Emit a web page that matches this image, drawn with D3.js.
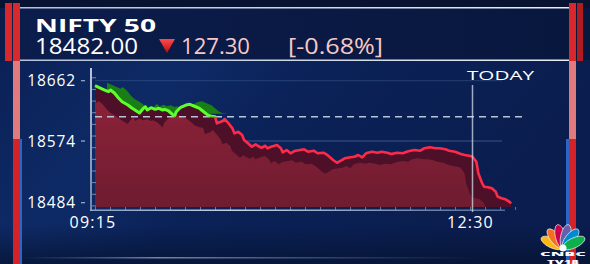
<!DOCTYPE html>
<html>
<head>
<meta charset="utf-8">
<script src="https://cdn.jsdelivr.net/npm/d3@7"></script>
<style>
  body { margin: 0; background: #081a44; overflow: hidden; }
  svg { display: block; }
  text { font-family: "Open Sans", "DejaVu Sans", sans-serif; fill: #fff; }
</style>
</head>
<body>
<svg id="chart" width="590" height="264"></svg>
<script>
// index name and quote
const indexName = "NIFTY 50";
const lastPrice = "18482.00";
const change = "127.30";
const changePct = "[-0.68%]";
const prevClose = 18609.3;

// intraday series
const times = ["09:15","09:18","09:20","09:22","09:23","09:25","09:27","09:29","09:32","09:34",
  "09:37","09:38","09:40","09:41","09:42","09:44","09:46","09:48","09:50","09:51",
  "09:53","09:55","09:56","09:57","09:59","10:02","10:04","10:07","10:09","10:10",
  "10:13","10:15","10:17","10:18","10:21","10:22","10:24","10:26","10:27","10:29",
  "10:31","10:32","10:34","10:36","10:38","10:39","10:41","10:43","10:44","10:46",
  "10:49","10:51","10:52","10:54","10:56","10:58","11:01","11:03","11:05","11:08",
  "11:10","11:13","11:15","11:18","11:20","11:22","11:24","11:27","11:29","11:31",
  "11:33","11:35","11:38","11:41","11:43","11:46","11:48","11:51","11:54","11:56",
  "11:58","12:00","12:03","12:05","12:08","12:11","12:13","12:16","12:18","12:21",
  "12:24","12:26","12:29","12:30","12:32","12:33","12:35","12:36","12:38","12:40",
  "12:42","12:43","12:45","12:47","12:49","12:50"];
const values = [18654.7,18650.9,18648.4,18645.9,18648.4,18644.0,18637.2,18631.3,18626.5,18622.1,
  18616.7,18614.8,18621.7,18624.0,18619.2,18622.6,18620.2,18621.7,18619.2,18620.2,
  18617.8,18612.9,18609.6,18616.7,18622.6,18626.5,18627.5,18624.0,18621.7,18619.2,
  18612.4,18610.0,18609.4,18599.8,18603.2,18606.1,18599.8,18592.5,18585.2,18587.6,
  18582.8,18575.5,18570.6,18565.7,18569.2,18567.1,18564.2,18567.1,18563.4,18565.7,
  18568.2,18563.4,18557.5,18560.9,18556.1,18559.4,18560.9,18561.9,18558.4,18559.9,
  18556.1,18556.9,18553.6,18546.3,18542.3,18545.3,18548.8,18550.2,18551.1,18553.6,
  18550.2,18556.1,18558.4,18556.9,18558.4,18556.9,18555.0,18556.9,18556.1,18558.4,
  18559.9,18560.9,18559.9,18563.4,18564.8,18563.4,18563.4,18561.9,18559.9,18558.4,
  18555.0,18553.6,18552.1,18551.1,18543.8,18526.9,18512.3,18507.3,18506.5,18505.0,
  18500.1,18492.8,18490.4,18489.0,18485.5,18483.0];

const yTicks = [18484, 18574, 18662];
const xTicks = ["09:15", "12:30"];
const todayMark = "12:30";

const parse = d3.timeParse("%H:%M");
const data = times.map((t, i) => ({ t: parse(t), v: values[i] }));

const W = 590, H = 264;
const plotBottom = 207;
const svg = d3.select("#chart");
const defs = svg.append("defs");

// ---------- background ----------
const bg = defs.append("linearGradient").attr("id", "bg")
  .attr("x1", 0).attr("y1", 0).attr("x2", 1).attr("y2", 0.4);
bg.append("stop").attr("offset", "0%").attr("stop-color", "#0a1f52");
bg.append("stop").attr("offset", "35%").attr("stop-color", "#0e2a66");
bg.append("stop").attr("offset", "55%").attr("stop-color", "#0b2258");
bg.append("stop").attr("offset", "100%").attr("stop-color", "#0a1d4e");
svg.append("rect").attr("width", W).attr("height", H).attr("fill", "url(#bg)");

// header band
const hd = defs.append("linearGradient").attr("id", "hd").attr("x1", 0).attr("x2", 1);
hd.append("stop").attr("offset", "0%").attr("stop-color", "#0b1d4c");
hd.append("stop").attr("offset", "45%").attr("stop-color", "#0a1a45");
hd.append("stop").attr("offset", "100%").attr("stop-color", "#08173d");
svg.append("rect").attr("x", 0).attr("y", 0).attr("width", W).attr("height", 8).attr("fill", "#071331");
svg.append("rect").attr("x", 0).attr("y", 8).attr("width", W).attr("height", 52).attr("fill", "url(#hd)");

// darker foot, fading in
const ft = defs.append("linearGradient").attr("id", "ft").attr("x1", 0).attr("y1", 0).attr("x2", 0).attr("y2", 1);
ft.append("stop").attr("offset", "0%").attr("stop-color", "#061433").attr("stop-opacity", 0);
ft.append("stop").attr("offset", "100%").attr("stop-color", "#061433").attr("stop-opacity", 0.8);
svg.append("rect").attr("x", 0).attr("y", 225).attr("width", W).attr("height", 39).attr("fill", "url(#ft)");

const hl = defs.append("linearGradient").attr("id", "hl").attr("x1", 0).attr("x2", 1);
hl.append("stop").attr("offset", "0%").attr("stop-color", "#c8d4ea").attr("stop-opacity", 0.9);
hl.append("stop").attr("offset", "100%").attr("stop-color", "#e8eef8").attr("stop-opacity", 1);
svg.append("rect").attr("x", 20).attr("y", 7).attr("width", 550).attr("height", 1.5).attr("fill", "url(#hl)");
svg.append("rect").attr("x", 20).attr("y", 59.5).attr("width", 550).attr("height", 1.5).attr("fill", "url(#hl)");

const bl = defs.append("linearGradient").attr("id", "bl").attr("x1", 0).attr("x2", 1);
bl.append("stop").attr("offset", "0%").attr("stop-color", "#6f86b8").attr("stop-opacity", 0);
bl.append("stop").attr("offset", "30%").attr("stop-color", "#9fb2d8").attr("stop-opacity", 0.7);
bl.append("stop").attr("offset", "100%").attr("stop-color", "#6f86b8").attr("stop-opacity", 0);
svg.append("rect").attr("x", 20).attr("y", 257).attr("width", 460).attr("height", 1.5).attr("fill", "url(#bl)");

// side bars
svg.append("rect").attr("x", 5).attr("y", 3).attr("width", 7).attr("height", 58).attr("fill", "#d8282c");
svg.append("rect").attr("x", 13).attr("y", 3).attr("width", 7).attr("height", 58).attr("fill", "#d62a2e");
svg.append("rect").attr("x", 13).attr("y", 61).attr("width", 7).attr("height", 78).attr("fill", "#e07a7c");
svg.append("rect").attr("x", 13).attr("y", 139).attr("width", 7).attr("height", 125).attr("fill", "#d42226");
svg.append("rect").attr("x", 20).attr("y", 139).attr("width", 2).attr("height", 125).attr("fill", "#2a66c8");
svg.append("rect").attr("x", 569).attr("y", 3).attr("width", 7).attr("height", 58).attr("fill", "#d8282c");
svg.append("rect").attr("x", 577).attr("y", 3).attr("width", 6).attr("height", 58).attr("fill", "#b01a20");
svg.append("rect").attr("x", 569).attr("y", 61).attr("width", 7).attr("height", 78).attr("fill", "#e07a7c");
svg.append("rect").attr("x", 569).attr("y", 139).attr("width", 7).attr("height", 125).attr("fill", "#d42226");
svg.append("rect").attr("x", 566).attr("y", 139).attr("width", 3).attr("height", 125).attr("fill", "#2a66c8");

// ---------- header texts ----------
svg.append("text").attr("x", 35).attr("y", 32).attr("font-size", 18.5).attr("font-weight", 700)
  .attr("textLength", 121).attr("lengthAdjust", "spacingAndGlyphs").text(indexName);
svg.append("text").attr("x", 35).attr("y", 53.5).attr("font-size", 21)
  .attr("textLength", 103).attr("lengthAdjust", "spacingAndGlyphs").text(lastPrice);

const tri = defs.append("linearGradient").attr("id", "tri").attr("x1", 0).attr("y1", 0).attr("x2", 0).attr("y2", 1);
tri.append("stop").attr("offset", "0%").attr("stop-color", "#ff4a4a");
tri.append("stop").attr("offset", "100%").attr("stop-color", "#b80d14");
svg.append("path").attr("d", "M159,39 L175,39 L167,53 Z").attr("fill", "url(#tri)");
svg.append("text").attr("x", 181).attr("y", 53.5).attr("font-size", 21)
  .style("fill", "#f7c9c6").attr("textLength", 69).attr("lengthAdjust", "spacingAndGlyphs").text(change);
svg.append("text").attr("x", 288).attr("y", 53.5).attr("font-size", 21)
  .style("fill", "#f7c9c6").attr("textLength", 95).attr("lengthAdjust", "spacingAndGlyphs").text(changePct);

// ---------- scales ----------
const x = d3.scaleTime().domain([parse(xTicks[0]), parse(xTicks[1])]).range([95, 472.5]);
const y = d3.scaleLinear().domain([yTicks[0], yTicks[2]]).range([202.7, 80.7]);

// grid lines
const g = svg.append("g");
g.selectAll("line.grid").data([yTicks[1], yTicks[2]]).join("line")
  .attr("x1", 95).attr("x2", 502)
  .attr("y1", d => y(d)).attr("y2", d => y(d))
  .attr("stroke", "#5a78b0").attr("stroke-opacity", d => d === yTicks[1] ? 0.6 : 0.35).attr("stroke-width", 1);

// ---------- area and line ----------
const line = d3.line().x(d => x(d.t)).y(d => y(d.v));
const area = d3.area().x(d => x(d.t)).y0(plotBottom).y1(d => y(d.v));

const yPC = y(prevClose);
defs.append("clipPath").attr("id", "above").append("rect")
  .attr("x", 0).attr("y", 0).attr("width", W).attr("height", yPC);
defs.append("clipPath").attr("id", "below").append("rect")
  .attr("x", 0).attr("y", yPC).attr("width", W).attr("height", H - yPC);
defs.append("clipPath").attr("id", "areaClip").append("path").attr("d", area(data));

// dark green band above the falling green line
g.append("path").attr("d", area(data)).attr("transform", "translate(12,-3)")
  .attr("fill", "#1a7e16").attr("clip-path", "url(#above)");

// main area, dark layer
const af = defs.append("linearGradient").attr("id", "af").attr("x1", 0).attr("y1", 0).attr("x2", 0).attr("y2", 1);
af.append("stop").attr("offset", "0%").attr("stop-color", "#8c2238");
af.append("stop").attr("offset", "100%").attr("stop-color", "#6c1b30");
g.append("path").attr("d", area(data)).attr("fill", "#4e1028");
// lighter body, offset copy inside the area
g.append("g").attr("clip-path", "url(#areaClip)")
  .append("path").attr("d", area(data)).attr("transform", "translate(-12,11)")
  .attr("fill", "url(#af)");

// prev close dashed
g.append("line").attr("x1", 95).attr("x2", 527).attr("y1", yPC).attr("y2", yPC)
  .attr("stroke", "#b9c4d8").attr("stroke-width", 1.5).attr("stroke-dasharray", "7,5");

// coloured line
g.append("path").attr("d", line(data)).attr("fill", "none")
  .attr("stroke", "#ff2a48").attr("stroke-width", 2.6).attr("stroke-linejoin", "round")
  .attr("clip-path", "url(#below)");
g.append("path").attr("d", line(data)).attr("fill", "none")
  .attr("stroke", "#5cff2a").attr("stroke-width", 3).attr("stroke-linejoin", "round")
  .attr("clip-path", "url(#above)");

// ---------- axes ----------
const yAxisLine = defs.append("linearGradient").attr("id", "yal").attr("x1", 0).attr("y1", 0).attr("x2", 0).attr("y2", 1);
yAxisLine.append("stop").attr("offset", "0%").attr("stop-color", "#e6ecf6");
yAxisLine.append("stop").attr("offset", "100%").attr("stop-color", "#8b9cc0");
svg.append("rect").attr("x", 90).attr("y", 68).attr("width", 2).attr("height", 143).attr("fill", "url(#yal)").attr("opacity", 0.8);

const yMinor = d3.range(yTicks[0] - 4, yTicks[2] + 8, 17);
svg.append("g").attr("transform", "translate(92,0)")
  .call(d3.axisRight(y).tickValues(yMinor).tickSize(4).tickFormat(""))
  .call(a => a.select(".domain").remove())
  .call(a => a.selectAll("line").attr("stroke", "#9fb0d0").attr("stroke-opacity", 0.7));

svg.append("g").selectAll("text").data(yTicks).join("text")
  .attr("x", 76).attr("y", d => y(d)).attr("dy", "0.36em")
  .attr("text-anchor", "end").attr("font-size", 15.5).attr("letter-spacing", 0.9)
  .text(d => d);
svg.append("g").selectAll("line").data(yTicks).join("line")
  .attr("x1", 81).attr("x2", 85).attr("y1", d => y(d)).attr("y2", d => y(d))
  .attr("stroke", "#9fb0d0").attr("stroke-width", 1.2);

// x axis with minor ticks
const t0 = parse(xTicks[0]);
const xMinor = d3.range(0, 220, 7.75).map(m => new Date(t0.getTime() + m * 60000));
const xAxisG = svg.append("g").attr("transform", "translate(0,210)")
  .call(d3.axisBottom(x).tickValues(xMinor).tickSize(-3).tickFormat(""));
xAxisG.select(".domain").remove();
xAxisG.selectAll("line").attr("stroke", "#9fb0d0").attr("stroke-opacity", 0.6);
const xal = defs.append("linearGradient").attr("id", "xal").attr("x1", 0).attr("x2", 1);
xal.append("stop").attr("offset", "0%").attr("stop-color", "#aab8d6").attr("stop-opacity", 0.8);
xal.append("stop").attr("offset", "35%").attr("stop-color", "#dfe6f4").attr("stop-opacity", 0.9);
xal.append("stop").attr("offset", "100%").attr("stop-color", "#8a9cc2").attr("stop-opacity", 0.6);
svg.append("rect").attr("x", 90).attr("y", 209.5).attr("width", 415).attr("height", 1.5).attr("fill", "url(#xal)");

svg.append("g").selectAll("text").data(xTicks).join("text")
  .attr("x", d => x(parse(d)) - 2).attr("y", 227.5)
  .attr("text-anchor", "middle").attr("font-size", 16).attr("letter-spacing", 1.2)
  .text(d => d);

// TODAY marker
const xt = x(parse(todayMark));
svg.append("line").attr("x1", xt).attr("x2", xt).attr("y1", 85).attr("y2", 212)
  .attr("stroke", "#d4dbe8").attr("stroke-opacity", 0.75).attr("stroke-width", 1.5);
svg.append("text").attr("x", 467).attr("y", 79.5).attr("font-size", 12.5)
  .attr("textLength", 67).attr("lengthAdjust", "spacingAndGlyphs").text("TODAY");

// ---------- channel logo ----------
const logo = svg.append("g").attr("transform", "translate(563,248)");
const feathers = ["#fcb711", "#f37021", "#cc004c", "#6460aa", "#0089d0", "#0db14b"];
feathers.forEach((c, i) => {
  const ang = -155 + i * 26;
  logo.append("ellipse").attr("cx", 0).attr("cy", -12).attr("rx", 5).attr("ry", 12)
    .attr("fill", c).attr("stroke", "#fff").attr("stroke-width", 0.6)
    .attr("transform", `rotate(${ang + 90})`);
});
logo.append("circle").attr("r", 3.5).attr("fill", "#fff");
svg.append("text").attr("x", 563).attr("y", 255.5).attr("text-anchor", "middle")
  .attr("font-size", 5.8).attr("font-weight", 800).attr("textLength", 46).attr("lengthAdjust", "spacingAndGlyphs").text("CNBC");
svg.append("text").attr("x", 563).attr("y", 263.5).attr("text-anchor", "middle")
  .attr("font-size", 5.8).attr("font-weight", 800).attr("textLength", 32).attr("lengthAdjust", "spacingAndGlyphs").text("TV18");
</script>
</body>
</html>
